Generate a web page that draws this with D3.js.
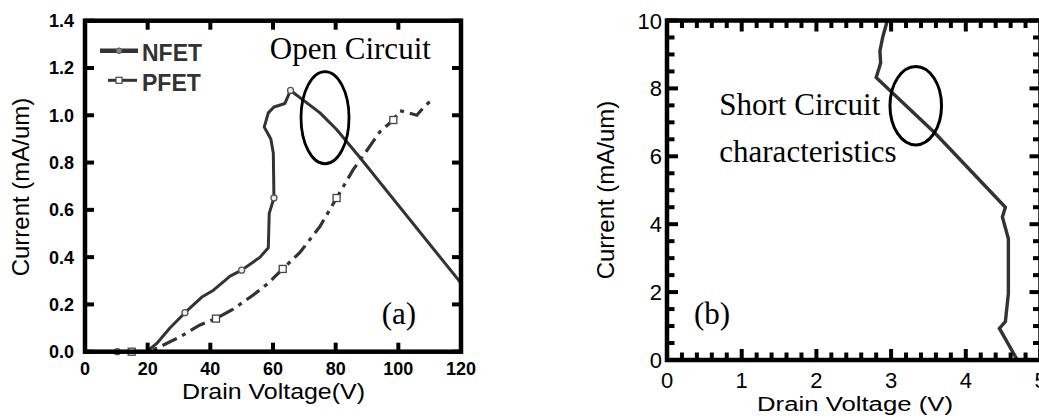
<!DOCTYPE html>
<html>
<head>
<meta charset="utf-8">
<script src="https://cdn.jsdelivr.net/npm/d3@7"></script>
<style>
  body { margin: 0; background: #fff; }
  svg { display: block; }
</style>
</head>
<body>
<svg id="chart" width="1039" height="418"></svg>
<script>
// ---- data, panel (a): open circuit, Id vs Vd
var nfetV = [10.3, 19.7, 22.9, 27.1, 31.9, 37.2, 41, 46.3, 50, 55.9, 58.5, 58.8, 60.3, 60.1, 59.3, 57.2, 58.5, 60.3, 63.8, 65.6, 75, 80.3, 87.8, 120];
var nfetI = [0, 0, 0.035, 0.1, 0.165, 0.23, 0.26, 0.32, 0.345, 0.4, 0.44, 0.585, 0.65, 0.84, 0.9, 0.95, 1.01, 1.035, 1.05, 1.105, 1.01, 0.94, 0.82, 0.29];
var nfetMarkV = [10.3, 31.9, 50, 60.3, 65.6];
var nfetMarkI = [0, 0.165, 0.345, 0.65, 1.105];

var pfetV = [14.9, 19.7, 22.9, 30.3, 36.7, 41.8, 47.3, 53.7, 58.5, 63.1, 68.6, 75, 80.3, 85.6, 89.9, 94.1, 98.4, 100.5, 105.9, 108.5, 111.2];
var pfetI = [0, 0, 0.014, 0.063, 0.113, 0.14, 0.18, 0.24, 0.29, 0.35, 0.42, 0.53, 0.65, 0.77, 0.85, 0.93, 0.98, 1.02, 1.0, 1.04, 1.07];
var pfetMarkV = [14.9, 41.8, 63.1, 80.3, 98.4];
var pfetMarkI = [0, 0.14, 0.35, 0.65, 0.98];

var xTicksA = [0, 20, 40, 60, 80, 100, 120];
var yTicksA = [0, 0.2, 0.4, 0.6, 0.8, 1.0, 1.2, 1.4];

// ---- data, panel (b): short circuit
var shortV = [2.95, 2.89, 2.85, 2.86, 2.84, 2.8, 3.58, 4.53, 4.49, 4.57, 4.57, 4.53, 4.45, 4.69];
var shortI = [10, 9.53, 9.1, 8.76, 8.6, 8.32, 6.7, 4.5, 4.21, 3.57, 1.96, 1.13, 0.93, 0];

var xTicksB = [0, 1, 2, 3, 4, 5];
var yTicksB = [0, 2, 4, 6, 8, 10];
var xMinorB = [0.2, 0.4, 0.6, 0.8, 1.2, 1.4, 1.6, 1.8, 2.2, 2.4, 2.6, 2.8, 3.2, 3.4, 3.6, 3.8, 4.2, 4.4, 4.6, 4.8];
var yMinorB = [0.5, 1, 1.5, 2.5, 3, 3.5, 4.5, 5, 5.5, 6.5, 7, 7.5, 8.5, 9, 9.5];

var svg = d3.select("#chart");
var sans = "'Liberation Sans', Arial, sans-serif";
var serif = "'Liberation Serif', 'Times New Roman', serif";

var xA = d3.scaleLinear([0, 120], [85, 461]);
var yA = d3.scaleLinear([0, 1.4], [351.7, 20.7]);
var xB = d3.scaleLinear([0, 5], [667, 1040.5]);
var yB = d3.scaleLinear([0, 10], [360, 20.5]);

var defs = svg.append("defs");
defs.append("clipPath").attr("id", "clipA").append("rect")
  .attr("x", 85).attr("y", 20.7).attr("width", 376).attr("height", 331);
defs.append("clipPath").attr("id", "clipB").append("rect")
  .attr("x", 667).attr("y", 20.5).attr("width", 373.5).attr("height", 339.5);

// inward ticks on all four sides
function ticks(x, y, xt, yt, len) {
  var x0 = x.range()[0], x1 = x.range()[1], y0 = y.range()[0], y1 = y.range()[1];
  var t = svg.append("g").attr("stroke", "#000").attr("stroke-width", 4);
  t.selectAll(null).data(xt).join("line")
    .attr("x1", function (d) { return x(d); }).attr("x2", function (d) { return x(d); })
    .attr("y1", y0).attr("y2", y0 - len);
  t.selectAll(null).data(xt).join("line")
    .attr("x1", function (d) { return x(d); }).attr("x2", function (d) { return x(d); })
    .attr("y1", y1).attr("y2", y1 + len);
  t.selectAll(null).data(yt).join("line")
    .attr("y1", function (d) { return y(d); }).attr("y2", function (d) { return y(d); })
    .attr("x1", x0).attr("x2", x0 + len);
  t.selectAll(null).data(yt).join("line")
    .attr("y1", function (d) { return y(d); }).attr("y2", function (d) { return y(d); })
    .attr("x1", x1).attr("x2", x1 - len);
}
function box(x, y) {
  svg.append("rect")
    .attr("x", x.range()[0]).attr("y", y.range()[1])
    .attr("width", x.range()[1] - x.range()[0]).attr("height", y.range()[0] - y.range()[1])
    .attr("fill", "none").attr("stroke", "#000").attr("stroke-width", 4.5);
}

// ================= panel (a)
var lineA = d3.line().x(function (d) { return xA(d[0]); }).y(function (d) { return yA(d[1]); });

svg.append("path").datum(d3.zip(pfetV, pfetI))
  .attr("d", lineA).attr("fill", "none").attr("stroke", "#333")
  .attr("stroke-width", 3.2).attr("stroke-dasharray", "16,6,4,6")
  .attr("clip-path", "url(#clipA)");

svg.append("path").datum(d3.zip(nfetV, nfetI))
  .attr("d", lineA).attr("fill", "none").attr("stroke", "#333")
  .attr("stroke-width", 3).attr("stroke-linejoin", "round")
  .attr("clip-path", "url(#clipA)");

svg.append("g").selectAll("circle").data(d3.zip(nfetMarkV, nfetMarkI)).join("circle")
  .attr("cx", function (d) { return xA(d[0]); }).attr("cy", function (d) { return yA(d[1]); })
  .attr("r", 3).attr("fill", "#eee").attr("stroke", "#555").attr("stroke-width", 1.3);

svg.append("g").selectAll("rect").data(d3.zip(pfetMarkV, pfetMarkI)).join("rect")
  .attr("x", function (d) { return xA(d[0]) - 3.5; }).attr("y", function (d) { return yA(d[1]) - 3.5; })
  .attr("width", 7).attr("height", 7).attr("fill", "#fff").attr("stroke", "#444").attr("stroke-width", 1.3);

ticks(xA, yA, xTicksA, yTicksA, 9);
box(xA, yA);

// tick labels
svg.append("g").selectAll("text").data(xTicksA).join("text")
  .attr("x", function (d) { return xA(d); }).attr("y", 375)
  .attr("text-anchor", "middle").attr("font-family", sans).attr("font-weight", "bold")
  .attr("font-size", 18).text(function (d) { return d; });
svg.append("g").selectAll("text").data(yTicksA).join("text")
  .attr("x", 74).attr("y", function (d) { return yA(d) + 6.5; })
  .attr("text-anchor", "end").attr("font-family", sans).attr("font-weight", "bold")
  .attr("font-size", 18).text(function (d) { return d.toFixed(1); });

svg.append("text").attr("x", 273.5).attr("y", 399).attr("text-anchor", "middle")
  .attr("font-family", sans).attr("font-size", 22).attr("textLength", 183)
  .attr("lengthAdjust", "spacingAndGlyphs").text("Drain Voltage(V)");
svg.append("text").attr("transform", "translate(29,187) rotate(-90)").attr("text-anchor", "middle")
  .attr("font-family", sans).attr("font-size", 24).text("Current (mA/um)");

// legend
svg.append("line").attr("x1", 100).attr("x2", 138).attr("y1", 50.7).attr("y2", 50.7)
  .attr("stroke", "#333").attr("stroke-width", 4.5);
svg.append("circle").attr("cx", 119).attr("cy", 50.7).attr("r", 2.8)
  .attr("fill", "#888").attr("stroke", "#555").attr("stroke-width", 1);
svg.append("text").attr("x", 142).attr("y", 61).attr("font-family", sans).attr("font-weight", "bold")
  .attr("font-size", 23).attr("fill", "#333").text("NFET");
svg.append("line").attr("x1", 108).attr("x2", 137).attr("y1", 80.3).attr("y2", 80.3)
  .attr("stroke", "#333").attr("stroke-width", 3);
svg.append("rect").attr("x", 116).attr("y", 77.3).attr("width", 6).attr("height", 6)
  .attr("fill", "#fff").attr("stroke", "#444").attr("stroke-width", 1.2);
svg.append("text").attr("x", 142).attr("y", 91).attr("font-family", sans).attr("font-weight", "bold")
  .attr("font-size", 23).attr("fill", "#333").text("PFET");

// annotations
svg.append("ellipse").attr("cx", xA(76.6)).attr("cy", yA(0.99))
  .attr("rx", xA(7.66) - xA(0)).attr("ry", yA(0) - yA(0.195))
  .attr("fill", "none").attr("stroke", "#000").attr("stroke-width", 2.8);
svg.append("text").attr("x", xA(59)).attr("y", yA(1.238)).attr("font-family", serif)
  .attr("font-size", 31).text("Open Circuit");
svg.append("text").attr("x", xA(94.7)).attr("y", yA(0.117)).attr("font-family", serif)
  .attr("font-size", 31).text("(a)");

// ================= panel (b)
var lineB = d3.line().x(function (d) { return xB(d[0]); }).y(function (d) { return yB(d[1]); });
svg.append("path").datum(d3.zip(shortV, shortI))
  .attr("d", lineB).attr("fill", "none").attr("stroke", "#333")
  .attr("stroke-width", 3.4).attr("clip-path", "url(#clipB)");

ticks(xB, yB, xMinorB, yMinorB, 7.5);
ticks(xB, yB, xTicksB, yTicksB, 11);
box(xB, yB);

svg.append("g").selectAll("text").data(xTicksB).join("text")
  .attr("x", function (d) { return xB(d); }).attr("y", 388)
  .attr("text-anchor", "middle").attr("font-family", sans)
  .attr("font-size", 22).text(function (d) { return d; });
svg.append("g").selectAll("text").data(yTicksB).join("text")
  .attr("x", 662).attr("y", function (d) { return yB(d) + 8; })
  .attr("text-anchor", "end").attr("font-family", sans)
  .attr("font-size", 22).text(function (d) { return d; });

svg.append("text").attr("x", 855).attr("y", 411).attr("text-anchor", "middle")
  .attr("font-family", sans).attr("font-size", 20).attr("textLength", 196)
  .attr("lengthAdjust", "spacingAndGlyphs").text("Drain Voltage (V)");
svg.append("text").attr("transform", "translate(614,190) rotate(-90)").attr("text-anchor", "middle")
  .attr("font-family", sans).attr("font-size", 24).text("Current (mA/um)");

svg.append("ellipse").attr("cx", xB(3.33)).attr("cy", yB(7.49))
  .attr("rx", xB(0.345) - xB(0)).attr("ry", yB(0) - yB(1.155))
  .attr("fill", "none").attr("stroke", "#000").attr("stroke-width", 3);
svg.append("text").attr("x", xB(0.7)).attr("y", yB(7.22)).attr("font-family", serif)
  .attr("font-size", 31).text("Short Circuit");
svg.append("text").attr("x", xB(0.7)).attr("y", yB(5.84)).attr("font-family", serif)
  .attr("font-size", 31).text("characteristics");
svg.append("text").attr("x", xB(0.36)).attr("y", yB(1.06)).attr("font-family", serif)
  .attr("font-size", 31).text("(b)");
</script>
</body>
</html>
